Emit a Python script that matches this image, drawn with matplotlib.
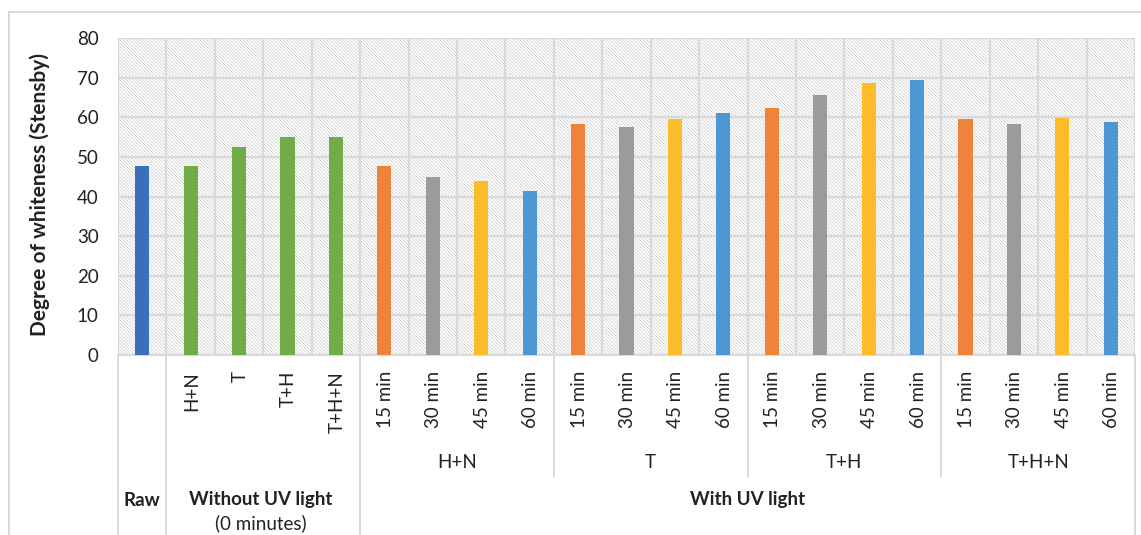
import matplotlib.pyplot as plt
import matplotlib.transforms as mtransforms
from matplotlib.patches import Rectangle
import numpy as np

plt.rcParams['font.family'] = ['Lato', 'DejaVu Sans']
plt.rcParams['hatch.linewidth'] = 0.5

# Data
tick_labels = ['', 'H+N', 'T', 'T+H', 'T+H+N',
               '15 min', '30 min', '45 min', '60 min',
               '15 min', '30 min', '45 min', '60 min',
               '15 min', '30 min', '45 min', '60 min',
               '15 min', '30 min', '45 min', '60 min']
raw = [47.7]
without_uv = [47.7, 52.5, 55.0, 54.9]
hn = [47.7, 44.9, 43.9, 41.3]
t = [58.3, 57.6, 59.6, 61.1]
th = [62.4, 65.7, 68.7, 69.4]
thn = [59.6, 58.3, 59.8, 58.8]
groups = ['H+N', 'T', 'T+H', 'T+H+N']

values = raw + without_uv + hn + t + th + thn
time_colors = ['#F0833A', '#9A9C9C', '#FDBD2A', '#4F97D4']
colors = ['#3C6FB9'] + ['#70AD47'] * 4 + time_colors * 4

x = np.arange(len(values))
fs = 13.5
txt = '#222222'

fig = plt.figure(figsize=(11.41, 5.35), dpi=100)
ax = fig.add_axes([118 / 1141, 1 - 355 / 535, (1135 - 118) / 1141, (355 - 38) / 535])

# hatched plot area
ax.add_patch(Rectangle((0, 0), 1, 1, transform=ax.transAxes, facecolor='white',
                       edgecolor='#cacaca', lw=0, hatch='\\' * 10, zorder=0.1))

ax.bar(x, values, width=0.29, color=colors, zorder=3)

ax.set_xlim(-0.5, len(values) - 0.5)
ax.set_ylim(0, 80)
ax.set_yticks(np.arange(0, 81, 10))
ax.set_xticks(np.arange(-0.5, len(values), 1.0))
ax.set_xticklabels([])
ax.tick_params(axis='both', length=0)
ax.tick_params(axis='y', labelsize=fs, pad=14, colors=txt)
ax.grid(True, color='#d9d9d9', linewidth=1.6, zorder=1)
for s in ['top', 'right', 'left']:
    ax.spines[s].set_visible(False)
ax.spines['bottom'].set_color('#d9d9d9')
ax.spines['bottom'].set_linewidth(1.4)

fig.text(40 / 1141, 1 - 194 / 535, 'Degree of whiteness (Stensby)', rotation=90,
         ha='center', va='center', fontsize=15, fontweight='bold', color=txt)

trans = mtransforms.blended_transform_factory(ax.transData, fig.transFigure)

# first level labels
for i, lab in enumerate(tick_labels):
    if lab:
        ax.text(x[i] + 0.02, 1 - 371 / 535, lab, rotation=90, ha='center', va='top',
                fontsize=fs, color=txt, transform=trans)

# second level labels
for g, name in enumerate(groups):
    cx = 5 + 4 * g + 1.5
    ax.text(cx, 1 - 463 / 535, name, ha='center', va='center', fontsize=fs,
            color=txt, transform=trans)

# third level labels
ax.text(0, 1 - 500 / 535, 'Raw', ha='center', va='center', fontsize=fs,
        fontweight='bold', color=txt, transform=trans)
ax.text(2.45, 1 - 500 / 535, 'Without UV light', ha='center', va='center', fontsize=fs,
        fontweight='bold', color=txt, transform=trans)
ax.text(2.45, 1 - 523 / 535, '(0 minutes)', ha='center', va='center', fontsize=fs,
        color=txt, transform=trans)
ax.text(12.5, 1 - 500 / 535, 'With UV light', ha='center', va='center', fontsize=fs,
        fontweight='bold', color=txt, transform=trans)

# separators of the category axis
y_top = 1 - 355 / 535
for bx in [-0.5, 0.5, 4.5, 20.5]:
    ax.plot([bx, bx], [y_top, 0], color='#d9d9d9', lw=1.4, transform=trans, clip_on=False)
for bx in [8.5, 12.5, 16.5]:
    ax.plot([bx, bx], [y_top, 1 - 476 / 535], color='#d9d9d9', lw=1.4, transform=trans,
            clip_on=False)

# chart border
fig.add_artist(Rectangle((9 / 1141, -0.05), 1.2, 1 - 12 / 535 + 0.05, transform=fig.transFigure,
                         fill=False, edgecolor='#d9d9d9', lw=1.4))

fig.savefig('out.png', dpi=100)
